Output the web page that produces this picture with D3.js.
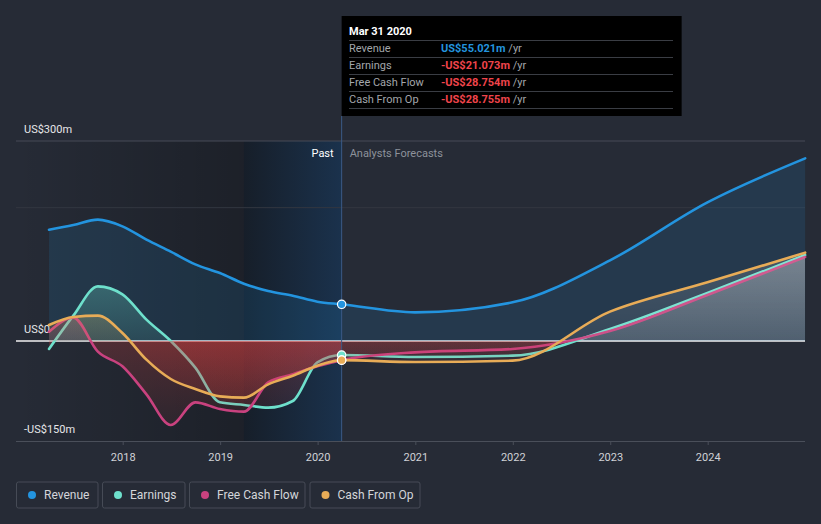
<!DOCTYPE html>
<html><head><meta charset="utf-8">
<script src="https://cdn.jsdelivr.net/npm/d3@7"></script>
<style>
html,body{margin:0;padding:0;background:#262b36;}
svg{display:block;font-family:Roboto,"Open Sans",sans-serif;}
</style></head>
<body><svg id="c" width="821" height="524"></svg>
<script>
// ---- data ----
const dates = ["2017-03-31","2017-06-30","2017-09-30","2017-12-31","2018-03-31","2018-06-30","2018-09-30","2018-12-31","2019-03-31","2019-06-30","2019-09-30","2019-12-31","2020-03-31","2020-12-31","2021-12-31","2022-12-31","2023-12-31","2024-12-31"];
const revenue  = [167,174,182,172,152,134,115,102,86,75,68,59,55.021, 43,58,121,208,274];
const earnings = [-12,38,82,70,32,0,-40,-92,-96,-100,-90,-32,-21.073, -24,-22,18,72,129];
const fcf      = [14,35,-16,-38,-80,-126,-92,-102,-106,-62,-50,-38,-28.754, -17,-12,15,69,126];
const cfo      = [24,36,38,12,-28,-57,-72,-83,-85,-65,-52,-37,-28.755, -31.5,-29.5,44,88,132.5];
const seriesNames = ["Revenue","Earnings","Free Cash Flow","Cash From Op"];
const seriesColors = ["#2394df","#6ee0cc","#c9427f","#e8ac57"];
const yTicks = [-150,0,300];
const yTickLabels = ["-US$150m","US$0","US$300m"];
const xTickYears = [2018,2019,2020,2021,2022,2023,2024];
const tooltipDate = "Mar 31 2020";
const tooltipValues = ["US$55.021m","-US$21.073m","-US$28.754m","-US$28.755m"];
const pastEnd = "2020-03-31";
const bandStart = "2019-03-31";

// ---- setup ----
const svg = d3.select("#c");
const parse = d3.utcParse("%Y-%m-%d");
const D = dates.map(parse);
const L = 16, R = 805, T = 141, B = 441;
const x = d3.scaleUtc().domain([Date.UTC(2018,0,1), Date.UTC(2024,0,1)]).range([122.7, 707.7]);
const y = d3.scaleLinear().domain([-150,300]).range([441,141]);
const xPast = x(parse(pastEnd)), xBand = x(parse(bandStart));
const y0 = y(0);

const defs = svg.append("defs");
function lg(id, x1,y1,x2,y2, stops){
  const g = defs.append("linearGradient").attr("id",id).attr("gradientUnits","userSpaceOnUse")
    .attr("x1",x1).attr("y1",y1).attr("x2",x2).attr("y2",y2);
  stops.forEach(s=>g.append("stop").attr("offset",s[0]).attr("stop-color",s[1]).attr("stop-opacity",s[2]));
}
lg("darkG", L,0,xBand,0, [[0,"#000",0],[1,"#000",0.25]]);
lg("bandG", xBand,0,xPast,0, [[0,"#2a7fd8",0.06],[1,"#2a7fd8",0.25]]);
lg("negG", 0,y0,0,B, [[0,"#d8403f",0.25],[1,"#d8403f",0.04]]);
lg("negF", 0,y0,0,y(-40), [[0,"#e0403f",0.12],[1,"#e0403f",0.05]]);
lg("posF", 0,y(150),0,y0, [[0,"#ffffff",0.16],[1,"#ffffff",0.07]]);
seriesColors.forEach((c,i)=>lg("posP"+i, 0,y(90),0,y0, [[0,c,0.3],[1,c,0.12]]));

function clip(id,x1,y1,x2,y2){
  defs.append("clipPath").attr("id",id).append("rect").attr("x",x1).attr("y",y1).attr("width",x2-x1).attr("height",y2-y1);
}
clip("pastPos", L,0,xPast,y0);
clip("pastNeg", L,y0,xPast,B);
clip("forePos", xPast,0,R,y0);
clip("foreNeg", xPast,y0,R,B);

// backgrounds
svg.append("rect").attr("x",L).attr("y",T).attr("width",xPast-L).attr("height",B-T).attr("fill","url(#darkG)");
svg.append("rect").attr("x",xBand).attr("y",T).attr("width",xPast-xBand).attr("height",B-T).attr("fill","#000").attr("opacity",0.25);
svg.append("rect").attr("x",xBand).attr("y",T).attr("width",xPast-xBand).attr("height",B-T).attr("fill","url(#bandG)");

// gridlines
svg.append("line").attr("x1",L).attr("x2",R).attr("y1",y(300)).attr("y2",y(300)).attr("stroke","#464b56").attr("stroke-width",1);
svg.append("line").attr("x1",L).attr("x2",R).attr("y1",y(200)).attr("y2",y(200)).attr("stroke","#323741").attr("stroke-width",1);

// x axis
const xa = svg.append("g").attr("transform",`translate(0,${B})`)
  .call(d3.axisBottom(x).tickValues(xTickYears.map(v=>new Date(Date.UTC(v,0,1)))).tickFormat(d3.utcFormat("%Y")).tickSize(4).tickPadding(8));
xa.select(".domain").attr("d",`M${L},0.5H${R}`).attr("stroke","#4a4f5a");
xa.selectAll(".tick line").attr("stroke","#4a4f5a");
xa.selectAll("text").attr("fill","#d0d2d6").attr("font-size",11).attr("font-family","Roboto,sans-serif");

// y labels
yTicks.forEach((v,i)=>{
  svg.append("text").attr("x",24).attr("y",y(v)-8).attr("fill","#e6e7e9").attr("font-size",11).text(yTickLabels[i]);
});

// zero line
svg.append("line").attr("x1",L).attr("x2",R).attr("y1",y0).attr("y2",y0).attr("stroke","#f2f2f2").attr("stroke-width",1.3);

// past / forecast labels
svg.append("text").attr("x",xPast-8).attr("y",157).attr("text-anchor","end").attr("fill","#ffffff").attr("font-size",11).text("Past");
svg.append("text").attr("x",xPast+8).attr("y",157).attr("fill","#8d929b").attr("font-size",11).text("Analysts Forecasts");

// series
const all = [revenue, earnings, fcf, cfo];
const curve = d3.curveMonotoneX;
all.forEach((vals,i)=>{
  const pts = vals.map((v,k)=>({d:D[k],v}));
  const area = d3.area().x(p=>x(p.d)).y0(y0).y1(p=>y(p.v)).curve(curve);
  const line = d3.line().x(p=>x(p.d)).y(p=>y(p.v)).curve(curve);
  const g = svg.append("g");
  if(i===0){
    g.append("path").attr("d",area(pts)).attr("fill","#2394df").attr("opacity",0.14);
  } else {
    g.append("path").attr("d",area(pts)).attr("fill",`url(#posP${i})`).attr("clip-path","url(#pastPos)");
    g.append("path").attr("d",area(pts)).attr("fill","url(#negG)").attr("clip-path","url(#pastNeg)");
    g.append("path").attr("d",area(pts)).attr("fill","url(#posF)").attr("clip-path","url(#forePos)");
    g.append("path").attr("d",area(pts)).attr("fill","url(#negF)").attr("clip-path","url(#foreNeg)");
  }
  g.append("path").attr("d",line(pts)).attr("fill","none").attr("stroke",seriesColors[i]).attr("stroke-width",2.6).attr("stroke-linecap","round");
});

// marker line
svg.append("line").attr("x1",xPast).attr("x2",xPast).attr("y1",116).attr("y2",B).attr("stroke","#3b5a86").attr("stroke-width",1);

// dots
const pi = D.findIndex(d=>+d===+parse(pastEnd));
all.forEach((vals,i)=>{
  svg.append("circle").attr("cx",xPast).attr("cy",y(vals[pi])).attr("r",4.2)
    .attr("fill",seriesColors[i]).attr("stroke","#ffffff").attr("stroke-width",1.2);
});

// tooltip
const tt = svg.append("g");
tt.append("rect").attr("x",xPast).attr("y",16).attr("width",340).attr("height",100).attr("fill","#000");
tt.append("text").attr("x",349).attr("y",35).attr("fill","#fff").attr("font-size",11).attr("font-weight","bold").text(tooltipDate);
[40,57,74,91,108].forEach(yy=>tt.append("line").attr("x1",349).attr("x2",673).attr("y1",yy+0.5).attr("y2",yy+0.5).attr("stroke","#3a3d44"));
seriesNames.forEach((n,i)=>{
  const yy = 52 + i*17;
  tt.append("text").attr("x",349).attr("y",yy).attr("fill","#a3a6ab").attr("font-size",11).text(n);
  const t = tt.append("text").attr("x",441).attr("y",yy).attr("font-size",11);
  t.append("tspan").attr("fill", i===0 ? "#2394df" : "#f0444b").attr("font-weight","bold").text(tooltipValues[i]);
  t.append("tspan").attr("fill","#a3a6ab").text(" /yr");
});

// legend
const lgX = [16,102,189,309.5], lgW = [81.5,82.5,115.5,110];
seriesNames.forEach((n,i)=>{
  const g = svg.append("g").attr("transform",`translate(${lgX[i]},481.5)`);
  g.append("rect").attr("x",0.5).attr("y",0.5).attr("width",lgW[i]).attr("height",26).attr("rx",2).attr("fill","none").attr("stroke","#464b56");
  g.append("circle").attr("cx",16).attr("cy",13.5).attr("r",4).attr("fill",seriesColors[i]);
  g.append("text").attr("x",28).attr("y",17.5).attr("fill","#d4d6da").attr("font-size",12).text(n);
});
</script></body></html>
